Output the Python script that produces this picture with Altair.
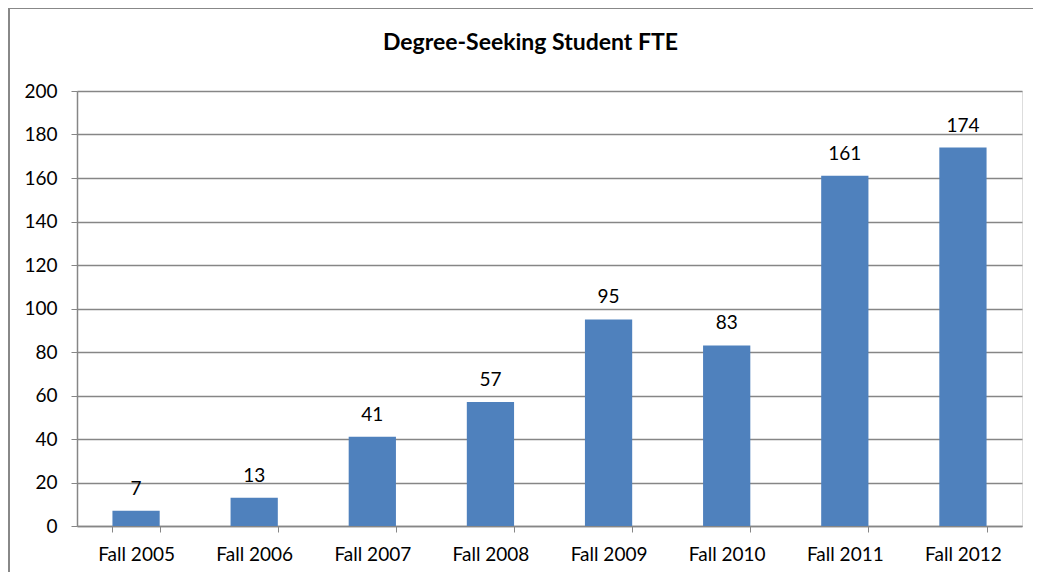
import altair as alt
import pandas as pd

categories = ["Fall 2005", "Fall 2006", "Fall 2007", "Fall 2008",
              "Fall 2009", "Fall 2010", "Fall 2011", "Fall 2012"]
values = [7, 13, 41, 57, 95, 83, 161, 174]
y_ticks = [0, 20, 40, 60, 80, 100, 120, 140, 160, 180, 200]

df = pd.DataFrame({"term": categories, "fte": values})

FONT = "Lato"
GRAY = "#868686"

x_enc = alt.X("term:N", sort=categories, title=None,
              scale=alt.Scale(paddingInner=0.6, paddingOuter=0.3),
              axis=alt.Axis(labelAngle=0, labelFont=FONT, labelFontSize=19,
                            labelColor="#000000", labelPadding=13,
                            tickBand="extent", tickSize=6, tickColor=GRAY,
                            domainColor=GRAY, domainWidth=1.5, grid=False))
y_enc = alt.Y("fte:Q", title=None,
              scale=alt.Scale(domain=[0, 200], nice=False),
              axis=alt.Axis(values=y_ticks, labelFont=FONT, labelFontSize=19,
                            labelColor="#000000", labelPadding=14,
                            tickSize=6, tickColor=GRAY, domainColor=GRAY,
                            domainWidth=1.5, gridColor=GRAY, gridWidth=1.5))

base = alt.Chart(df).encode(x=x_enc, y=y_enc)

bars = base.mark_bar(color="#4F81BD")
labels = base.mark_text(font=FONT, fontSize=19, color="#000000",
                        baseline="alphabetic", dy=-16).encode(text="fte:Q")

frame = alt.Chart(alt.Data(values=[{}]))
left_border = frame.mark_rule(color="#888888", strokeWidth=2).encode(
    x=alt.value(-68), y=alt.value(-84), y2=alt.value(500))
top_border = frame.mark_rule(color="#888888", strokeWidth=2).encode(
    x=alt.value(-68), x2=alt.value(1000), y=alt.value(-83))

chart = alt.layer(bars, labels, left_border, top_border).properties(
    width=945, height=435,
    title=alt.TitleParams("Degree-Seeking Student FTE", font=FONT, fontSize=23,
                          fontWeight="bold", color="#000000", anchor="middle",
                          frame="group", baseline="alphabetic", offset=-67, dx=-19),
    autosize=alt.AutoSizeParams(type="none"),
    padding={"left": 69, "top": 83, "right": 11, "bottom": 46},
).configure_view(stroke=None).configure(background="#ffffff")

chart.save("out.html", embed_options={"renderer": "svg", "actions": False})
